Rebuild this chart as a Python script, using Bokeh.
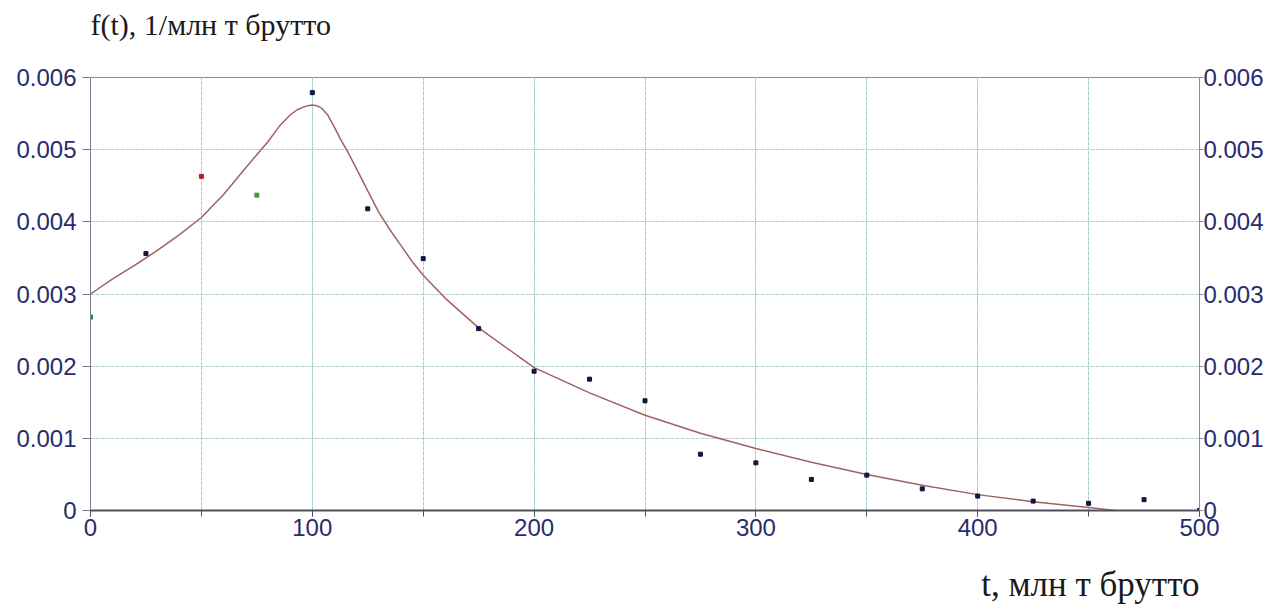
from bokeh.plotting import figure
from bokeh.models import (Range1d, LinearAxis, FixedTicker, SingleIntervalTicker,
                          Title, ColumnDataSource)
from bokeh.embed import file_html
from bokeh.resources import INLINE

# ---------------- data ----------------
t_points = [0, 25, 50, 75, 100, 125, 150, 175, 200, 225, 250, 275, 300, 325,
            350, 375, 400, 425, 450, 475, 500]
f_points = [0.00268, 0.00356, 0.00463, 0.00437, 0.00579, 0.00418, 0.00349,
            0.00252, 0.00193, 0.00182, 0.00152, 0.00078, 0.00066, 0.00043,
            0.00049, 0.00030, 0.00020, 0.00013, 0.00010, 0.00015, 0.0]
point_colors = ["#2f8a2f", "#14143f", "#b22020", "#3c9a3c", "#14143f", "#14143f",
                "#14143f", "#14143f", "#14143f", "#14143f", "#14143f", "#14143f",
                "#14143f", "#14143f", "#14143f", "#14143f", "#14143f", "#14143f",
                "#14143f", "#14143f", "#14143f"]

t_curve = [0, 10, 20, 30, 40, 50, 60, 70, 75, 80, 85, 90, 93, 96, 98, 100,
           102, 104, 107, 110, 113, 116, 120, 125, 130, 135, 140, 145, 150,
           160, 175, 200, 225, 250, 275, 300, 325, 350, 375, 400, 425, 450, 462]
f_curve = [0.00300, 0.00321, 0.00340, 0.00360, 0.00382, 0.00406, 0.00438,
           0.00475, 0.00493, 0.00511, 0.00532, 0.00548, 0.00555, 0.00559,
           0.00561, 0.00562, 0.00561, 0.00558, 0.00548, 0.00531, 0.00513,
           0.00497, 0.00473, 0.00443, 0.00413, 0.00389, 0.00367, 0.00345,
           0.00326, 0.00294, 0.00253, 0.00198, 0.00163, 0.00132, 0.00107,
           0.00086, 0.00067, 0.00050, 0.00035, 0.00022, 0.00012, 0.00004, 0.0]

y_ticks = [0.0, 0.001, 0.002, 0.003, 0.004, 0.005, 0.006]
y_tick_labels = ["0", "0.001", "0.002", "0.003", "0.004", "0.005", "0.006"]
x_ticks_interval = 100

title_text = "f(t), 1/млн т брутто"
xlabel_text = "t, млн т брутто"

# ---------------- figure ----------------
TICK_COLOR = "#2a2a6e"
GRID_COLOR = "#a9cccc"

p = figure(frame_width=1109, frame_height=433,
           x_range=Range1d(0, 500), y_range=Range1d(0, 0.006),
           output_backend="svg", toolbar_location=None,
           min_border_left=90, min_border_right=76,
           min_border_top=77, min_border_bottom=96,
           background_fill_color="white", border_fill_color="white")

p.outline_line_color = "#8c8c96"
p.outline_line_width = 1

# x axis
xt = SingleIntervalTicker(interval=x_ticks_interval, num_minor_ticks=2)
p.xaxis.ticker = xt
p.xaxis.axis_line_color = "#4e4e5e"
p.xaxis.axis_line_width = 2
p.xaxis.major_tick_line_color = "#4e4e5e"
p.xaxis.minor_tick_line_color = "#4e4e5e"
p.xaxis.major_tick_out = 6
p.xaxis.major_tick_in = 0
p.xaxis.minor_tick_out = 6
p.xaxis.minor_tick_in = 0
p.xaxis.major_label_standoff = 2
p.xaxis.major_label_text_font = "Liberation Sans"
p.xaxis.major_label_text_font_size = "24px"
p.xaxis.major_label_text_color = TICK_COLOR

# left y axis
p.yaxis.ticker = FixedTicker(ticks=y_ticks, minor_ticks=[])
p.yaxis.major_label_overrides = dict(zip(y_ticks, y_tick_labels))
p.yaxis.axis_line_color = "#7a7a94"
p.yaxis.major_tick_line_color = "#7a7a94"
p.yaxis.major_tick_out = 8
p.yaxis.major_tick_in = 0
p.yaxis.minor_tick_line_color = None
p.yaxis.major_label_standoff = 6
p.yaxis.major_label_text_font = "Liberation Sans"
p.yaxis.major_label_text_font_size = "24px"
p.yaxis.major_label_text_color = TICK_COLOR

# right y axis
ry = LinearAxis(ticker=FixedTicker(ticks=y_ticks, minor_ticks=[]),
                major_label_overrides=dict(zip(y_ticks, y_tick_labels)))
ry.axis_line_color = "#8c8c96"
ry.major_tick_line_color = "#8c8c96"
ry.major_tick_out = 4
ry.major_tick_in = 0
ry.minor_tick_line_color = None
ry.major_label_standoff = 0
ry.major_label_text_font = "Liberation Sans"
ry.major_label_text_font_size = "24px"
ry.major_label_text_color = TICK_COLOR
p.add_layout(ry, "right")

# grids
p.xgrid.ticker = xt
p.xgrid.grid_line_color = GRID_COLOR
p.xgrid.minor_grid_line_color = GRID_COLOR
p.xgrid.grid_line_width = 1
p.xgrid.minor_grid_line_width = 1
p.xgrid.grid_line_dash = "4 1"
p.xgrid.minor_grid_line_dash = "4 1"
p.ygrid.ticker = FixedTicker(ticks=y_ticks)
p.ygrid.grid_line_color = "#b6d2cd"
p.ygrid.grid_line_width = 1
p.ygrid.grid_line_dash = "4 1"

# curve
p.line(t_curve, f_curve, line_color="#a06262", line_width=1.5)

# points
src = ColumnDataSource(dict(t=t_points, f=f_points, c=point_colors))
p.scatter("t", "f", source=src, marker="square", size=4,
          fill_color="c", line_color="c")

# titles (spacer titles push the real ones away from the frame)
p.add_layout(Title(text="\u00a0", text_font_size="26px", standoff=0), "above")
top_title = Title(text=title_text, align="left", text_font="Liberation Serif",
                  text_font_size="30px", text_font_style="normal",
                  text_color="#1a1a1a")
p.add_layout(top_title, "above")
p.add_layout(Title(text="\u00a0", text_font_size="15px", standoff=0), "below")
bottom_title = Title(text=xlabel_text, align="right", text_font="Liberation Serif",
                     text_font_size="35px", text_font_style="normal",
                     text_color="#1a1a1a")
p.add_layout(bottom_title, "below")

open("out.html", "w").write(file_html(p, INLINE))
